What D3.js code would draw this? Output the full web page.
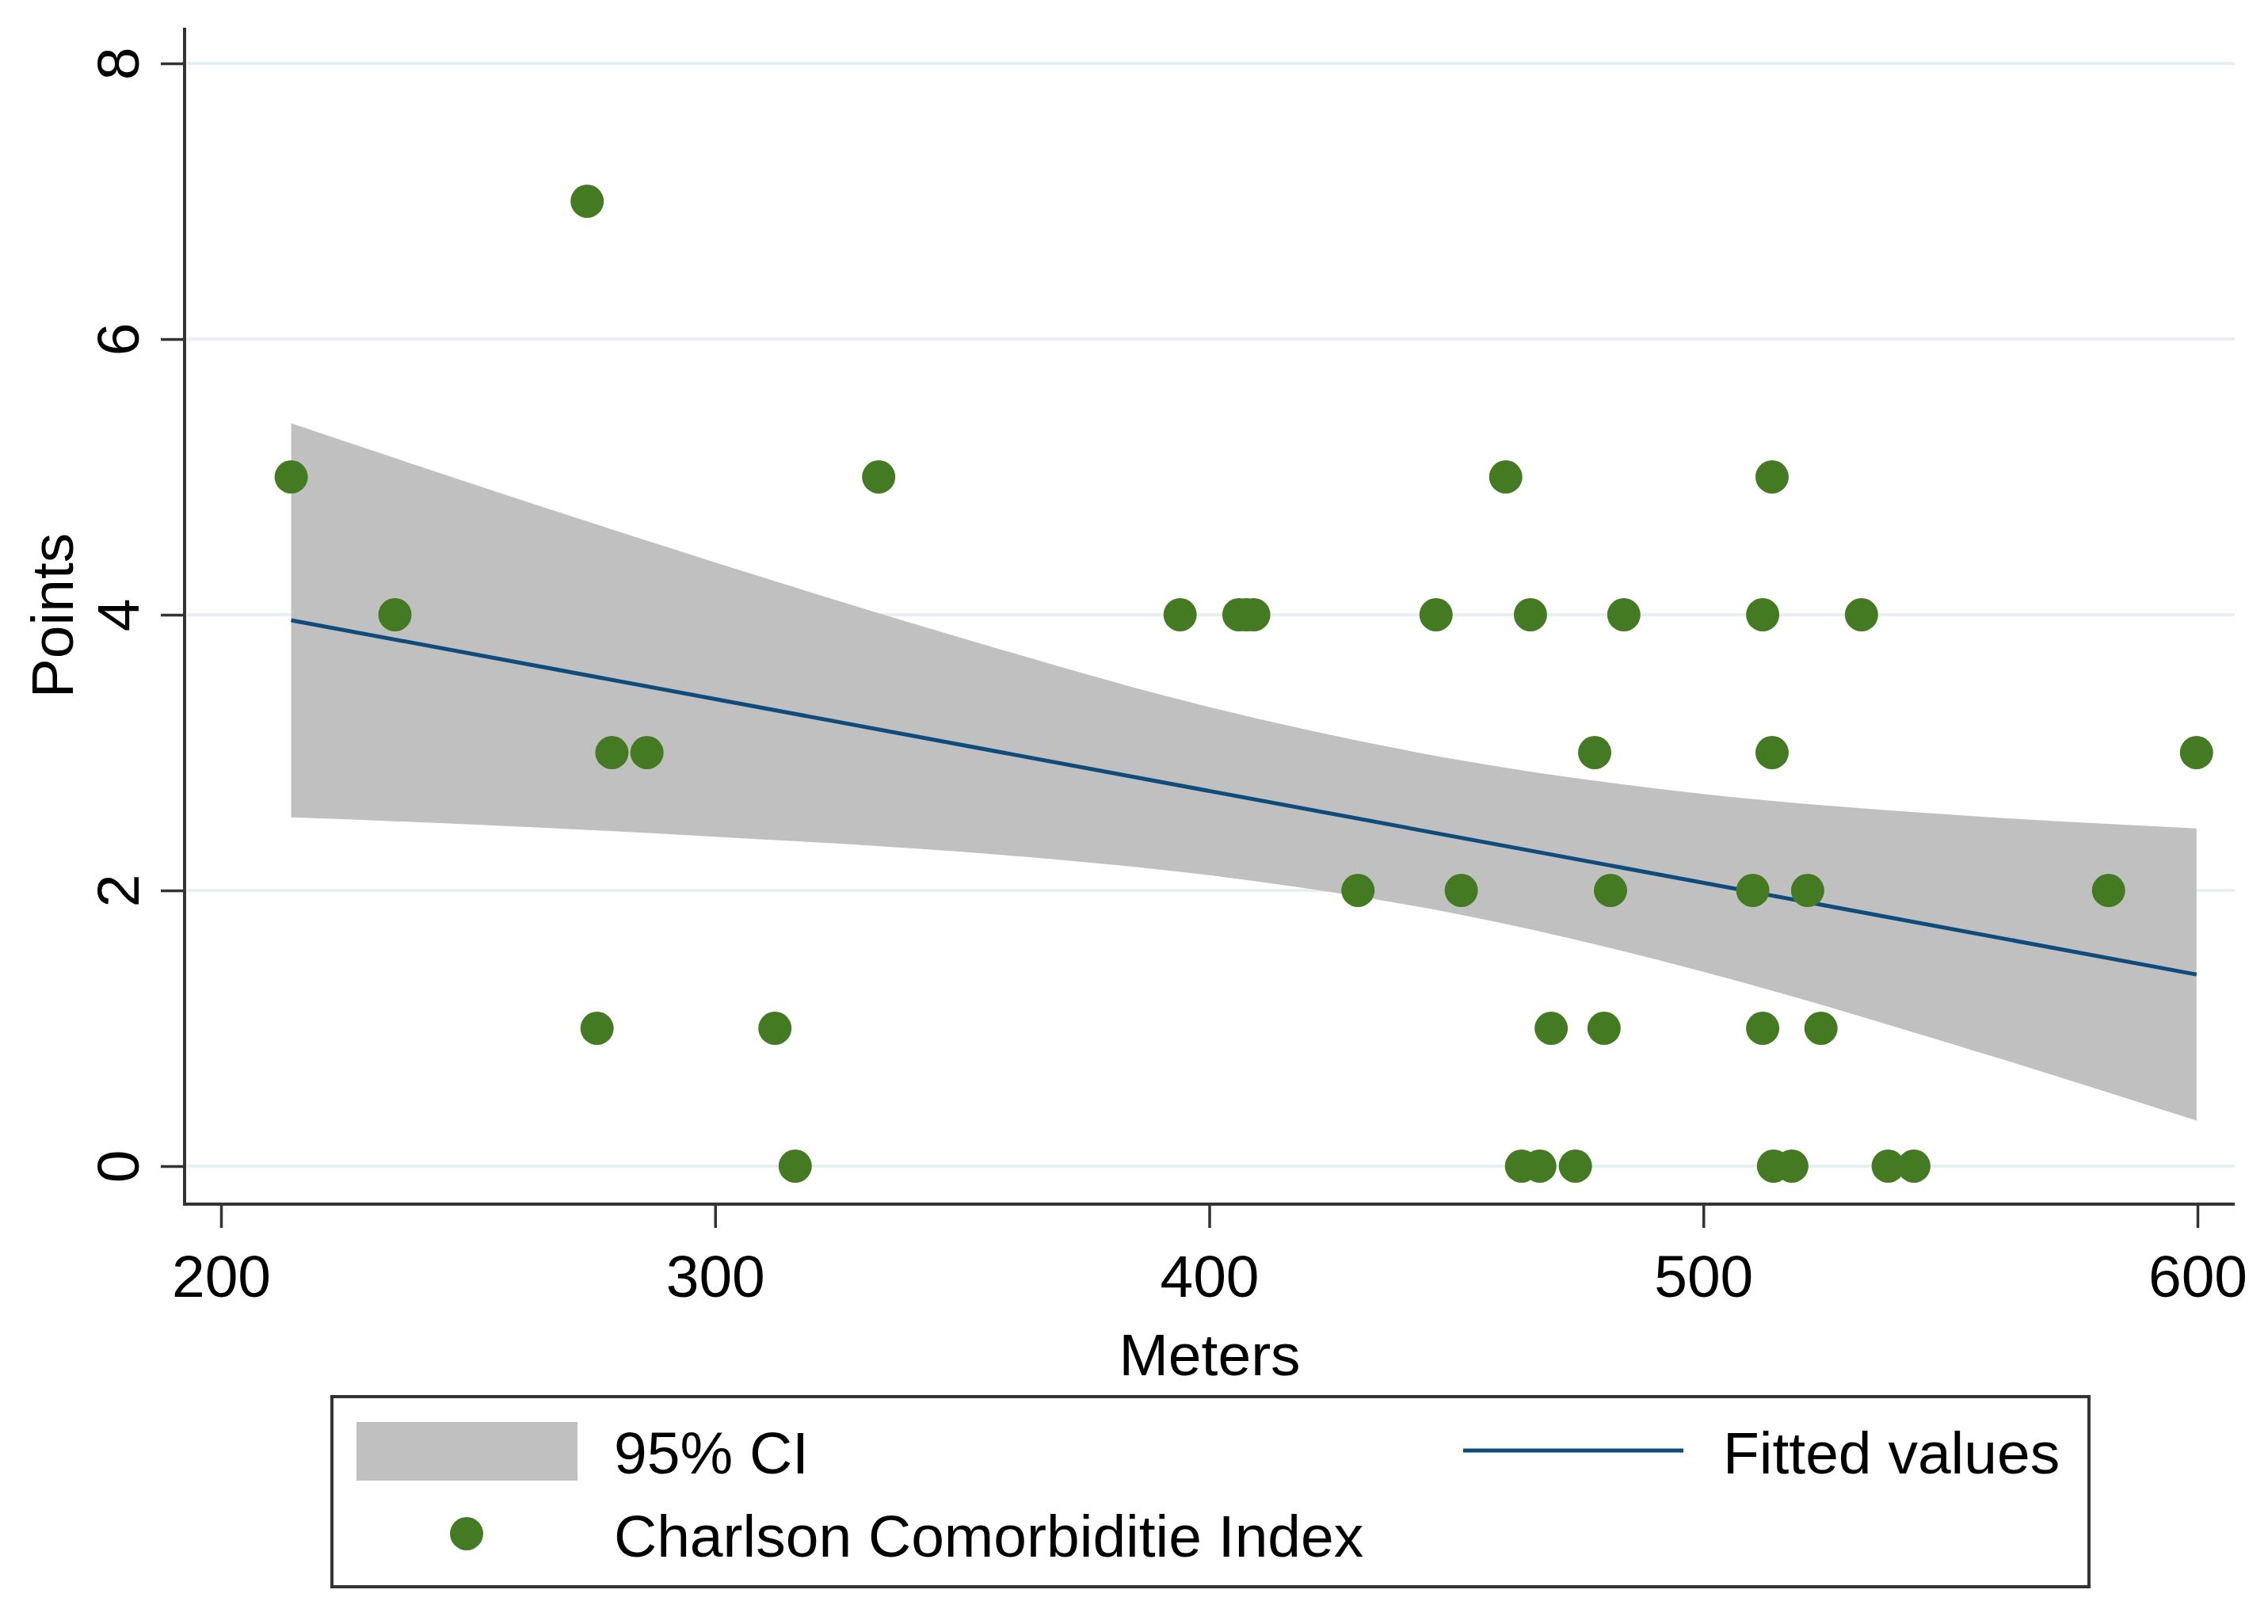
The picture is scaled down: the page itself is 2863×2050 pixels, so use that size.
<!DOCTYPE html>
<html>
<head>
<meta charset="utf-8">
<script src="https://cdn.jsdelivr.net/npm/d3@7"></script>
<style>
  body { margin: 0; background: #fff; }
  text { font-family: "Liberation Sans", Arial, sans-serif; fill: #000; }
</style>
</head>
<body>
<div id="chart"></div>
<script>
// scatter: Meters (x) vs Charlson Comorbiditie Index points (y)
const meters = [
    274.1,
    214.2, 333.1, 460.0, 513.9,
    235.2, 394.1, 406.0, 407.5, 409.0, 445.9, 465.0, 483.9, 512.0, 532.0,
    279.1, 286.2, 478.0, 513.9, 599.8,
    430.1, 451.0, 481.2, 510.0, 521.1, 582.0,
    276.1, 312.1, 469.2, 479.9, 512.0, 523.8,
    316.2, 463.2, 466.9, 474.1, 514.2, 517.9, 537.4, 542.6
];
const points = [
    7,
    5, 5, 5, 5,
    4, 4, 4, 4, 4, 4, 4, 4, 4, 4,
    3, 3, 3, 3, 3,
    2, 2, 2, 2, 2, 2,
    1, 1, 1, 1, 1, 1,
    0, 0, 0, 0, 0, 0, 0, 0
];

// fitted line and 95% CI band
const fitX = [214.2, 599.8];
const fitY = [3.96, 1.39];
const ciX = [214.2, 250, 300, 350, 400, 450, 500, 550, 599.8];
const ciUpper = [5.39, 4.96, 4.38, 3.83, 3.33, 2.95, 2.70, 2.55, 2.45];
const ciLower = [2.53, 2.48, 2.39, 2.28, 2.11, 1.83, 1.41, 0.89, 0.33];

const xTicks = [200, 300, 400, 500, 600];
const yTicks = [0, 2, 4, 6, 8];

const chart = {};
chart.width = 2863;
chart.height = 2050;
chart.plot = { left: 233, right: 2821, top: 35, bottom: 1520 };

const svg = d3.select("#chart")
    .append("svg")
    .attr("width", chart.width)
    .attr("height", chart.height);

const x = d3.scaleLinear().domain([200, 600]).range([279, 2774]);
const y = d3.scaleLinear().domain([0, 8]).range([1472, 80]);

// gridlines
svg.append("g")
    .selectAll("line")
    .data(yTicks)
    .enter()
    .append("line")
    .attr("x1", chart.plot.left + 3)
    .attr("x2", chart.plot.right)
    .attr("y1", d => y(d))
    .attr("y2", d => y(d))
    .attr("stroke", "#e6f0f3")
    .attr("stroke-width", 4);

// CI band
const band = ciX.map((v, i) => ({ x: v, lo: ciLower[i], hi: ciUpper[i] }));
svg.append("path")
    .datum(band)
    .attr("fill", "#c0c0c0")
    .attr("d", d3.area()
        .curve(d3.curveMonotoneX)
        .x(d => x(d.x))
        .y0(d => y(d.lo))
        .y1(d => y(d.hi))
    );

// fitted values
svg.append("path")
    .datum(fitX.map((v, i) => ({ x: v, y: fitY[i] })))
    .attr("fill", "none")
    .attr("stroke", "#0f4c7c")
    .attr("stroke-width", 5)
    .attr("d", d3.line()
        .x(d => x(d.x))
        .y(d => y(d.y))
    );

// markers
svg.append("g")
    .selectAll("circle")
    .data(meters.map((v, i) => ({ x: v, y: points[i] })))
    .enter()
    .append("circle")
    .attr("cx", d => x(d.x))
    .attr("cy", d => y(d.y))
    .attr("r", 21)
    .attr("fill", "#447a22");

// axes
const yAxis = svg.append("g")
    .attr("transform", `translate(${chart.plot.left},0)`)
    .call(d3.axisLeft(y).tickValues(yTicks).tickSize(30).tickFormat(d3.format("d")));
const xAxis = svg.append("g")
    .attr("transform", `translate(0,${chart.plot.bottom})`)
    .call(d3.axisBottom(x).tickValues(xTicks).tickSize(30).tickFormat(d3.format("d")));

[yAxis, xAxis].forEach(g => {
    g.select(".domain").remove();
    g.selectAll(".tick line").attr("stroke", "#333").attr("stroke-width", 3.5);
    g.selectAll(".tick text").style("font-size", "75px").attr("fill", "#000");
});
yAxis.selectAll(".tick text")
    .attr("x", null)
    .attr("dy", null)
    .attr("text-anchor", "middle")
    .attr("transform", "translate(-58,0) rotate(-90)");
xAxis.selectAll(".tick text")
    .attr("dy", null)
    .attr("y", 117);

svg.append("line")
    .attr("x1", chart.plot.left).attr("x2", chart.plot.left)
    .attr("y1", chart.plot.top).attr("y2", chart.plot.bottom)
    .attr("stroke", "#333").attr("stroke-width", 4);
svg.append("line")
    .attr("x1", chart.plot.left - 2).attr("x2", chart.plot.right)
    .attr("y1", chart.plot.bottom).attr("y2", chart.plot.bottom)
    .attr("stroke", "#333").attr("stroke-width", 4);

// axis titles
svg.append("text")
    .attr("x", (chart.plot.left + chart.plot.right) / 2)
    .attr("y", 1736)
    .attr("text-anchor", "middle")
    .style("font-size", "75px")
    .text("Meters");
svg.append("text")
    .attr("transform", "translate(92,777) rotate(-90)")
    .attr("text-anchor", "middle")
    .style("font-size", "75px")
    .text("Points");

// legend
const legend = svg.append("g");
legend.append("rect")
    .attr("x", 419).attr("y", 1763)
    .attr("width", 2637 - 419).attr("height", 2003 - 1763)
    .attr("fill", "#fff")
    .attr("stroke", "#333")
    .attr("stroke-width", 4);
legend.append("rect")
    .attr("x", 450).attr("y", 1795)
    .attr("width", 279).attr("height", 74)
    .attr("fill", "#c0c0c0");
legend.append("text")
    .attr("x", 775).attr("y", 1860)
    .style("font-size", "75px")
    .text("95% CI");
legend.append("line")
    .attr("x1", 1847).attr("x2", 2125)
    .attr("y1", 1831).attr("y2", 1831)
    .attr("stroke", "#0f4c7c")
    .attr("stroke-width", 5);
legend.append("text")
    .attr("x", 2175).attr("y", 1860)
    .style("font-size", "75px")
    .text("Fitted values");
legend.append("circle")
    .attr("cx", 589).attr("cy", 1936)
    .attr("r", 21)
    .attr("fill", "#447a22");
legend.append("text")
    .attr("x", 775).attr("y", 1965)
    .style("font-size", "75px")
    .text("Charlson Comorbiditie Index");
</script>
</body>
</html>
